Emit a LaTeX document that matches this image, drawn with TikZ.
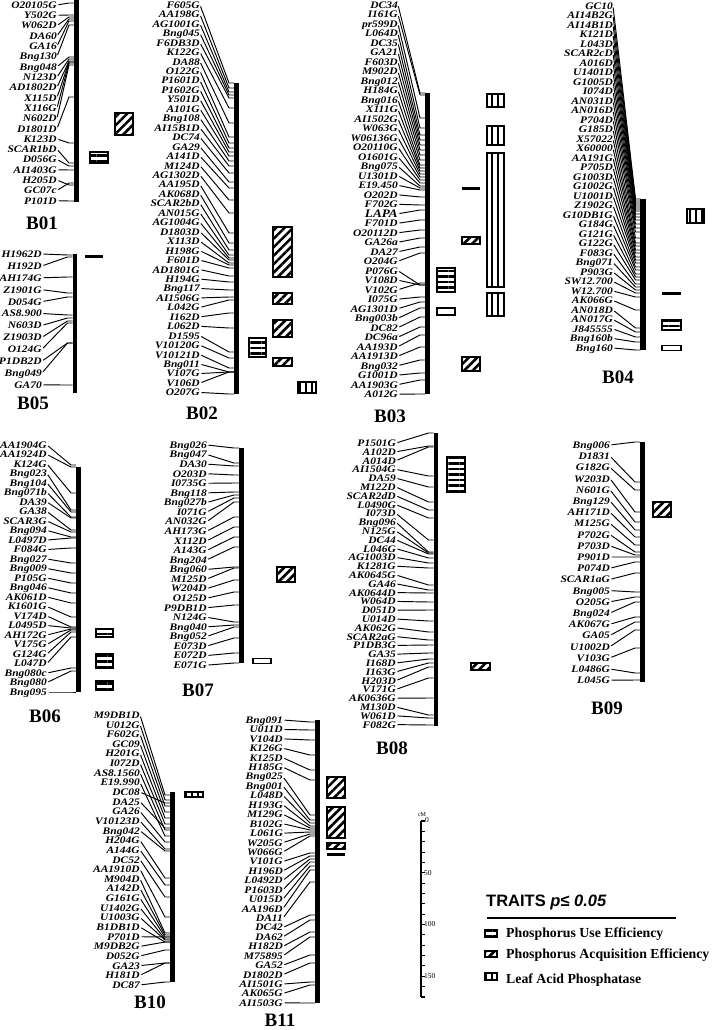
\documentclass[tikz,border=0pt]{standalone}
\usepackage{fontspec}
\setmainfont{Liberation Serif}
\newfontfamily\mkfont[FakeStretch=1.15]{Liberation Serif}
\newfontfamily\legfont{Liberation Sans}
\usetikzlibrary{patterns.meta}
\newcommand{\bigmk}{\fontsize{11.5}{11.5}\selectfont}
% one linkage group: id, label x, first label y, label step, bar x, {marker/position}
\newcommand{\linkgroup}[6]{%
  \foreach \mname/\cy [count=\i] in {#6} {
    \node[locus] (#1-\i) at (#2,{#3+(\i-1)*#4}) {\mname};
    \coordinate (#1-\i-c) at (#5-2.5,\cy);
    \draw[locusline] (#1-\i.east) -- ([xshift=-5pt]#1-\i-c) -- (#1-\i-c);
  }}

\begin{document}
\begin{tikzpicture}[x=1pt,y=-1pt,
locus/.style={font=\mkfont\fontsize{10}{10}\selectfont\bfseries\itshape,anchor=east,inner sep=0pt,text height=6.8pt,text depth=0pt},
locusline/.style={line width=0.95pt,shorten <=1.5pt},
chrbar/.style={line width=4.5pt},
chrname/.style={font=\fontsize{19}{19}\selectfont\bfseries,inner sep=0pt},
qtlbox/.style={draw,line width=1.4pt},
pue/.style={qtlbox,pattern={Lines[angle=0,distance=5.5pt,line width=2.6pt]}},
pae/.style={qtlbox,pattern={Lines[angle=45,distance=6pt,line width=2.6pt]}},
lap/.style={qtlbox,pattern={Lines[angle=90,distance=6pt,line width=2.2pt]}},
thinbox/.style={qtlbox,fill=white},
sclabel/.style={font=\fontsize{7.5}{8}\selectfont,inner sep=0pt,anchor=west},
legitem/.style={font=\fontsize{13.8}{14}\selectfont\bfseries,anchor=west,inner sep=0pt,text height=9pt,text depth=0pt}]

\path[use as bounding box,fill=white] (0,0) rectangle (717,1030);

% B01
\linkgroup{b01}{57}{5}{10.3}{76.5}{O20105G/3, Y502G/15, W062D/17, DA60/19, GA16/21, Bng130/25, Bng048/57, N123D/59, AD1802D/61, X115D/62, X116G/63, N602D/65, D1801D/97, K123D/143, SCAR1bD/163, D056G/166, AI1403G/170, H205D/185, GC07c/183, P101D/201}
\draw[chrbar] (76.5,0) -- (76.5,202);
\draw[pae] (115,113) rectangle (133,135);
\draw[pue] (90,152) rectangle (108,163);
\node[chrname] (B01) at (42,223) {B01};

% B05
\linkgroup{b05}{42}{254}{11.9}{75}{H1962D/255, H192D/257, AH174G/277, Z1901G/293, D054G/297, AS8.900/315, N603D/318, Z1903D/321, O124G/323, P1DB2D/343, Bng049/343, GA70/385}
\draw[chrbar] (75,254) -- (75,393);
\fill (85,254.5) rectangle (103,257.5);
\node[chrname] (B05) at (33,403) {B05};

% B02
\linkgroup{b02}{200}{5}{9.45}{236.5}{F605G/83, AA198G/88, AG1001G/92, Bng045/95, F6DB3D/98, K122G/108, DA88/123, O122G/137, P1601D/143, P1602G/148, Y501D/152, A101G/156, Bng108/161, AI15B1D/166, DC74/173, GA29/182, A141D/188, M124D/200, AG1302D/213, AA195D/233, AK068D/243, SCAR2bD/250, AN015G/255, AG1004G/258, D1803D/260, X113D/263, H198G/265, F601D/268, AD1801G/276, H194G/282, Bng117/290, AI1506G/297, L042G/300, I162D/313, L062D/328, D1595/352, V10120G/358, V10121D/368, Bng011/372, V107G/372, V106D/372, O207G/394}
\draw[chrbar] (236.5,83) -- (236.5,394);
\draw[pae] (273,227) rectangle (292,277);
\draw[pae] (273,293) rectangle (292,304);
\draw[pae] (273,320) rectangle (292,337);
\draw[pae] (273,358) rectangle (292,366);
\draw[pue] (249,338) rectangle (266,357);
\draw[lap] (298,382) rectangle (316,393);
\node[chrname] (B02) at (202,413) {B02};

% B03
\linkgroup{b03}{398}{5}{9.49}{427.5}{DC34/93, I161G/95, pr599D/118, L064D/128, DC35/135, GA21/140, F603D/145, M902D/150, Bng012/155, H184G/160, Bng016/165, X111G/168, AI1502G/171, W063G/174, W06136G/177, O20110G/180, O1601G/183, Bng075/186, U1301D/188, E19.450/190, O202D/197, F702G/205, {\bigmk LAPA}/210, F701D/220, O20112D/230, GA26a/238, DA27/247, O204G/253, P076G/285, V108D/285, V102G/283, I075G/297, AG1301D/302, Bng003b/308, DC82/317, DC96a/327, AA193D/335, AA1913D/347, Bng032/360, G1001D/373, AA1903G/380, A012G/394}
\draw[chrbar] (427.5,93) -- (427.5,394);
\draw[lap] (487,94) rectangle (504,107);
\draw[lap] (487,126) rectangle (504,145);
\draw[lap] (487,153) rectangle (504,287);
\draw[lap] (487,293) rectangle (504,316);
\fill (462,186.5) rectangle (480,189.5);
\draw[pae] (462,237) rectangle (480,244);
\draw[pue] (437,268) rectangle (455,292);
\draw[thinbox] (437,308) rectangle (455,315);
\draw[pae] (462,357) rectangle (480,371);
\node[chrname] (B03) at (390,416) {B03};

% B04
\linkgroup{b04}{613}{6}{9.5}{643}{GC10/199, AI14B2G/201, AI14B1D/203, K121D/205, L043D/207, SCAR2cD/209, A016D/211, U1401D/214, G1005D/217, I074D/220, AN031D/224, AN016D/228, P704D/232, G185D/238, X57022/243, X60000/246, AA191G/250, P705D/253, G1003D/257, G1002G/260, U1001D/263, Z1902G/267, G10DB1G/270, G184G/274, G121G/277, G122G/280, F083G/284, Bng071/287, P903G/290, SW12.700/293, W12.700/297, AK066G/310, AN018D/328, AN017G/332, J845555/337, Bng160b/342, Bng160/350}
\draw[chrbar,line width=6pt] (643,199) -- (643,350);
\draw[lap] (687,209) rectangle (704,223);
\fill (662,291.5) rectangle (681,294.5);
\draw[pue] (662,320) rectangle (681,330);
\draw[thinbox] (662,345.5) rectangle (681,350.5);
\node[chrname] (B04) at (618,377) {B04};

% B06
\linkgroup{b06}{47}{445}{9.5}{78.5}{AA1904G/465, AA1924D/467, K124G/493, Bng023/510, Bng104/512, Bng071b/517, DA39/518, GA38/530, SCAR3G/532, Bng094/537, L0497D/538, F084G/548, Bng027/563, Bng009/573, P105G/583, Bng046/593, AK061D/603, K1601G/617, V174D/627, L0495D/628, AH172G/629, V175G/630, G124G/632, L047D/637, Bng080c/668, Bng080/671, Bng095/692}
\draw[chrbar] (78.5,467) -- (78.5,692);
\draw[pue] (96,629) rectangle (113,637);
\draw[pue] (96,654) rectangle (113,668);
\draw[pue] (96,681) rectangle (113,690);
\node[chrname] (B06) at (45,716) {B06};

% B07
\linkgroup{b07}{207}{445}{9.57}{241.5}{Bng026/448, Bng047/463, DA30/466, O203D/475, I0735G/483, Bng118/492, Bng027b/495, I071G/498, AN032G/502, AH173G/517, X112D/527, A143G/537, Bng204/547, Bng060/567, M125D/568, W204D/580, O125D/592, P9DB1D/605, N124G/622, Bng040/625, Bng052/627, E073D/638, E072D/653, E071G/663}
\draw[chrbar] (241.5,448) -- (241.5,663);
\draw[pae] (277,567) rectangle (295,582);
\draw[thinbox] (253,658.5) rectangle (271,663.5);
\node[chrname] (B07) at (198,690) {B07};

% B08
\linkgroup{b08}{396}{443}{8.8}{436}{P1501G/433, A102D/446, A014D/447, AI1504G/476, DA59/487, M122D/502, SCAR2dD/510, L0490G/518, I073D/540, Bng096/552, N125G/553, DC44/554, L046G/558, AG1003D/563, K1281G/568, AK0645G/585, GA46/590, AK0644D/593, W064D/602, D051D/610, U014D/621, AK062G/632, SCAR2aG/640, P1DB3G/645, GA35/653, I168D/659, I163G/663, H203D/667, V171G/678, AK0636G/698, M130D/715, W061D/718, F082G/725}
\draw[chrbar] (436,433) -- (436,726);
\draw[pue] (447,457) rectangle (465,492);
\draw[pae] (471,663) rectangle (490,670);
\node[chrname] (B08) at (392,748) {B08};

% B09
\linkgroup{b09}{610}{445}{11.2}{642.5}{Bng006/442, D1831/482, G182G/490, W203D/512, N601G/522, Bng129/530, AH171D/537, M125G/545, P702G/552, P703D/555, P901D/557, P074D/562, SCAR1aG/573, Bng005/592, O205G/597, Bng024/602, AK067G/617, GA05/622, U1002D/630, V103G/648, L0486G/673, L045G/680}
\draw[chrbar] (642.5,442) -- (642.5,682);
\draw[pae] (653,502) rectangle (671,517);
\node[chrname] (B09) at (607,708) {B09};

% B10
\linkgroup{b10}{140}{715}{9.64}{172.5}{M9DB1D/795, U012G/800, F602G/806, GC09/812, H201G/818, I072D/824, AS8.1560/830, E19.990/836, DC08/803, DA25/828, GA26/842, V10123D/849, Bng042/851, H204G/878, A144G/885, DC52/897, AA1910D/917, M904D/933, A142D/935, G161G/937, U1402G/939, U1003G/940, B1DB1D/942, P701D/937, M9DB2G/942, D052G/950, GA23/963, H181D/963, DC87/982}
\draw[chrbar] (172.5,792) -- (172.5,982);
\draw[lap] (185,792) rectangle (203,797);
\node[chrname] (B10) at (150,1002) {B10};

% B11
\linkgroup{b11}{283}{720}{9.43}{317.5}{Bng091/722, U011D/730, V104D/740, K126G/755, K125D/770, H185G/780, Bng025/815, Bng001/820, L048D/823, H193G/826, M129G/828, B102G/830, L061G/832, W205G/834, W066G/836, V101G/853, H196D/856, L0492D/859, P1603D/862, U015D/866, AA196D/870, DA11/882, DC42/915, DA62/920, H182D/932, M75895/937, GA52/955, D1802D/963, AI1501G/982, AK065G/985, AI1503G/1003}
\draw[chrbar] (317.5,720) -- (317.5,1003);
\draw[pae] (327,777) rectangle (345,798);
\draw[pae] (327,807) rectangle (345,838);
\draw[pae] (327,843) rectangle (345,849);
\fill (327,852.5) rectangle (345,855.5);
\node[chrname] (B11) at (280,1020) {B11};

% scale in cM
\draw[line width=1.6pt] (420.7,821) -- (420.7,997);
\foreach \k in {0,...,17}
  \draw[line width=1.1pt] (420.7,{821+\k*10.35}) -- ++(4,0);
\node[sclabel,anchor=south,font=\fontsize{6}{6}\selectfont] (sc-cm) at (422,817) {cM};
\node[sclabel] (sc-0) at (425,820) {0};
\node[sclabel] (sc-50) at (424,873) {50};
\node[sclabel] (sc-100) at (424,924.5) {100};
\node[sclabel] (sc-150) at (424,976.3) {150};

% legend
\node[anchor=west,inner sep=0pt,font=\legfont\fontsize{16.5}{16.5}\selectfont\bfseries] (legtitle) at (486,902) {TRAITS {\itshape p≤ 0.05}};
\draw[line width=2.7pt] (487,918) -- (676,918);
\draw[pue] (485,930) rectangle (497,937);
\node[legitem] (leg-pue) at (506,933) {Phosphorus Use Efficiency};
\draw[pae] (485,951) rectangle (497,957);
\node[legitem] (leg-pae) at (506,954) {Phosphorus Acquisition Efficiency};
\draw[lap] (485,973) rectangle (497,980);
\node[legitem] (leg-lap) at (506,979) {Leaf Acid Phosphatase};

\end{tikzpicture}
\end{document}
